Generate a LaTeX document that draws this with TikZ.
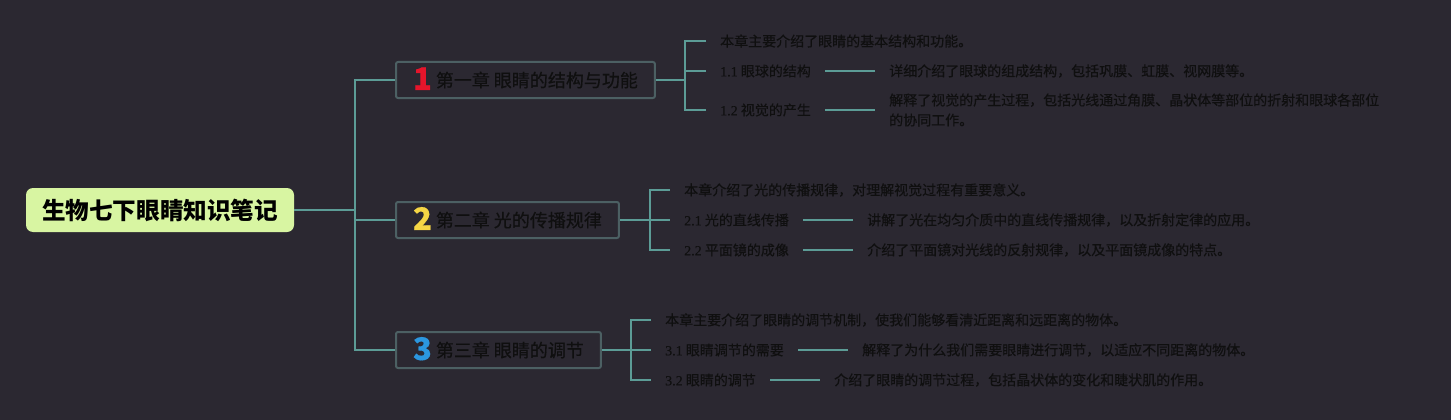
\documentclass[tikz,border=0pt]{standalone}
\usepackage{fontspec}
\setmainfont{Noto Sans CJK SC}
\newfontfamily\latin{Liberation Serif}[FakeBold=0.3]
\newfontfamily\thick{Noto Sans CJK SC}[FakeBold=0.4]
\usetikzlibrary{positioning}
\definecolor{bgc}{HTML}{2B2831}
\definecolor{linkc}{HTML}{5C9C96}
\definecolor{boxc}{HTML}{4C6063}
\definecolor{txtc}{HTML}{0F0F0F}
\definecolor{rootc}{HTML}{D8F5A2}
\definecolor{numred}{HTML}{E5152B}
\definecolor{numyellow}{HTML}{F5D645}
\definecolor{numblue}{HTML}{2B97DF}
\newcommand\chapnum[2]{\smash{\raisebox{-3pt}{\color{#1}\bfseries\fontsize{31}{31}\selectfont #2}}\hspace{4pt}}
\tikzset{
  link/.style={draw=linkc, line width=2pt},
  rootbox/.style={fill=rootc, rounded corners=7pt, inner xsep=16pt, minimum height=44pt,
    text=black, font=\bfseries\fontsize{23.6}{28}\selectfont},
  chapbox/.style={draw=boxc, line width=2pt, rounded corners=2pt, inner xsep=17pt,
    minimum height=36pt, anchor=west, text=txtc, font=\thick\fontsize{18}{22}\selectfont},
  item/.style={inner xsep=14pt, inner ysep=2pt, anchor=west, text=txtc,
    font=\thick\fontsize{14}{20}\selectfont},
  note/.style={item, align=left},
}
\begin{document}
\begin{tikzpicture}[x=1pt, y=-1pt]
    \fill[bgc] (0,0) rectangle (1451,420);
    \useasboundingbox (0,0) rectangle (1451,420);
    % root and chapters
    \node[rootbox] (root) at (160,210) {生物七下眼睛知识笔记};
    \node[chapbox] (c1) at (395,80) {\chapnum{numred}{1}第一章 眼睛的结构与功能};
    \node[chapbox] (c2) at (395,220) {\chapnum{numyellow}{2}第二章 光的传播规律};
    \node[chapbox] (c3) at (395,350) {\chapnum{numblue}{3}第三章 眼睛的调节};
    \coordinate (trunk) at (355,210);
    \draw[link] (root.east) -- (trunk);
    \draw[link] (c1.west) -| (trunk) |- (c3.west);
    \draw[link] (trunk |- c2.west) -- (c2.west);
    % chapter 1
    \coordinate (b1) at (685,80);
    \node[item] (s10) at (706,41) {本章主要介绍了眼睛的基本结构和功能。};
    \node[item] (s11) at (706,71) {{\latin 1.1} 眼球的结构};
    \node[item] (s12) at (706,110) {{\latin 1.2} 视觉的产生};
    \node[note, right=50pt of s11] (d11) {详细介绍了眼球的组成结构，包括巩膜、虹膜、视网膜等。};
    \node[note, right=50pt of s12] (d12) {解释了视觉的产生过程，包括光线通过角膜、晶状体等部位的折射和眼球各部位\\的协同工作。};
    \draw[link] (c1.east) -- (b1);
    \draw[link] (s10.west) -| (b1) |- (s12.west);
    \draw[link] (b1 |- s11.west) -- (s11.west);
    \draw[link] (s11) -- (d11);
    \draw[link] (s12) -- (d12);
    % chapter 2
    \coordinate (b2) at (650,220);
    \node[item] (s20) at (670,190) {本章介绍了光的传播规律，对理解视觉过程有重要意义。};
    \node[item] (s21) at (670,220) {{\latin 2.1} 光的直线传播};
    \node[item] (s22) at (670,250) {{\latin 2.2} 平面镜的成像};
    \node[note, right=50pt of s21] (d21) {讲解了光在均匀介质中的直线传播规律，以及折射定律的应用。};
    \node[note, right=50pt of s22] (d22) {介绍了平面镜对光线的反射规律，以及平面镜成像的特点。};
    \draw[link] (c2.east) -- (b2) -- (s21.west);
    \draw[link] (s20.west) -| (b2) |- (s22.west);
    \draw[link] (s21) -- (d21);
    \draw[link] (s22) -- (d22);
    % chapter 3
    \coordinate (b3) at (631,350);
    \node[item] (s30) at (651,320) {本章主要介绍了眼睛的调节机制，使我们能够看清近距离和远距离的物体。};
    \node[item] (s31) at (651,350) {{\latin 3.1} 眼睛调节的需要};
    \node[item] (s32) at (651,380) {{\latin 3.2} 眼睛的调节};
    \node[note, right=50pt of s31] (d31) {解释了为什么我们需要眼睛进行调节，以适应不同距离的物体。};
    \node[note, right=50pt of s32] (d32) {介绍了眼睛的调节过程，包括晶状体的变化和睫状肌的作用。};
    \draw[link] (c3.east) -- (b3) -- (s31.west);
    \draw[link] (s30.west) -| (b3) |- (s32.west);
    \draw[link] (s31) -- (d31);
    \draw[link] (s32) -- (d32);
\end{tikzpicture}
\end{document}
